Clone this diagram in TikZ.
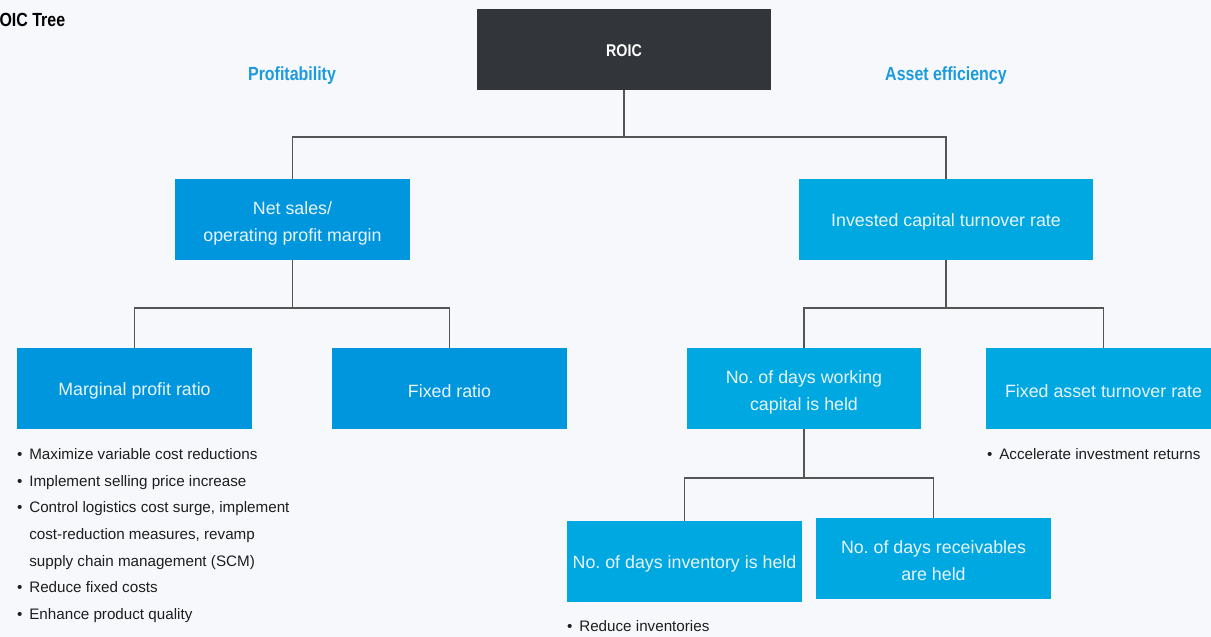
\documentclass[tikz,border=0pt]{standalone}
\usepackage{fontspec}
\setmainfont{Liberation Sans}
\newfontfamily\condsans[FakeStretch=0.84]{Liberation Sans}
\frenchspacing

\definecolor{pagebg}{HTML}{F7F8FC}
\definecolor{rootfill}{HTML}{32363A}
\definecolor{profblue}{HTML}{0096DD}
\definecolor{assetblue}{HTML}{00A8E1}
\definecolor{headblue}{HTML}{1B9BDE}
\definecolor{boxtext}{HTML}{E8F4FB}
\definecolor{linegray}{HTML}{555555}
\definecolor{notetext}{HTML}{1E1E1E}

% two centred lines; the taller first row sets the text a little low in its box
\newcommand{\stackpair}[2]{\begin{tabular}{@{}c@{}}\rule{0pt}{25pt}#1\\#2\end{tabular}}

\begin{document}
\begin{tikzpicture}[x=1pt, y=-1pt,
  every node/.style={inner sep=0pt, outer sep=0pt},
  box/.style={minimum width=235pt, minimum height=81pt, text=boxtext,
    font=\fontsize{17.8}{26.5}\selectfont,
    execute at begin node={\rule{0pt}{18pt}}},
  twoline/.style={execute at begin node={}},
  profbox/.style={box, fill=profblue},
  assetbox/.style={box, fill=assetblue},
  rootbox/.style={fill=rootfill, minimum width=294pt, minimum height=81pt,
    text=white, font=\condsans\bfseries\fontsize{17}{20}\selectfont},
  heading/.style={text=headblue, font=\condsans\bfseries\fontsize{19}{22}\selectfont},
  titlelabel/.style={text=black, font=\condsans\bfseries\fontsize{19}{22}\selectfont},
  notes/.style={anchor=base west, text=notetext, font=\fontsize{15.2}{26.67}\selectfont},
  link/.style={draw=linegray, line width=1.3pt}
]
% canvas
\clip (0,0) rectangle (1211,637);
\fill[pagebg] (0,0) rectangle (1211,637);

% title and branch headings
\node[titlelabel, anchor=west] (title) at (-12,19.5) {ROIC Tree};
\node[heading] (hprof) at (292,76) {Profitability};
\node[heading] (hasset) at (946,76) {Asset efficiency};

% tree boxes
\node[rootbox] (roic) at (624,49.5) {\rule{0pt}{14pt}ROIC};
\node[profbox, twoline] (net) at (292.5,219.5) {\stackpair{Net sales/}{operating profit margin}};
\node[assetbox, minimum width=294pt] (inv) at (946,219.5) {Invested capital turnover rate};
\node[profbox] (marg) at (134.5,388.5) {Marginal profit ratio};
\node[profbox] (fixr) at (449.5,388.5) {Fixed ratio};
\node[assetbox, twoline, minimum width=234pt] (wc) at (804,388.5) {\stackpair{No. of days working}{capital is held}};
\node[assetbox] (fat) at (1103.5,388.5) {Fixed asset turnover rate};
\node[assetbox] (dinv) at (684.5,561.5) {No. of days inventory is held};
\node[assetbox, twoline] (drec) at (933.5,558.5) {\stackpair{No. of days receivables}{are held}};

% branch junctions
\coordinate (j1) at (624,137);
\coordinate (j2) at (292.5,308);
\coordinate (j3) at (946,308);
\coordinate (j4) at (804,478);

% connectors
\draw[link] (roic.south) -- (j1) -| (net.north);
\draw[link] (j1) -| (inv.north);
\draw[link] (net.south) -- (j2) -| (marg.north);
\draw[link] (j2) -| (fixr.north);
\draw[link] (inv.south) -- (j3) -| (wc.north);
\draw[link] (j3) -| (fat.north);
\draw[link] (wc.south) -- (j4) -| (dinv.north);
\draw[link] (j4) -| (drec.north);

% measures under the boxes
\node[notes] (margnotes) at (17,459.5) {\begin{tabular}[t]{@{}l@{\hspace{7pt}}l@{}}
\textbullet & Maximize variable cost reductions\\
\textbullet & Implement selling price increase\\
\textbullet & Control logistics cost surge, implement\\
 & cost-reduction measures, revamp\\
 & supply chain management (SCM)\\
\textbullet & Reduce fixed costs\\
\textbullet & Enhance product quality
\end{tabular}};
\node[notes] (fatnotes) at (987,459.5) {\textbullet\hspace{7pt}Accelerate investment returns};
\node[notes] (dinvnotes) at (567,631.5) {\textbullet\hspace{7pt}Reduce inventories};
\end{tikzpicture}
\end{document}
